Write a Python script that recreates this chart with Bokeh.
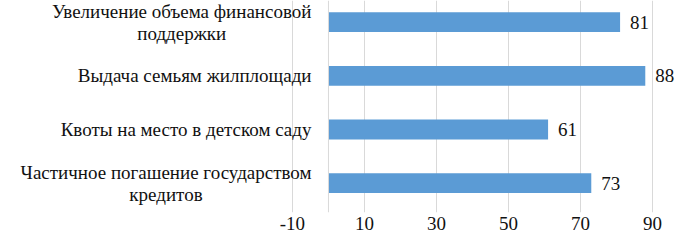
from bokeh.plotting import figure
from bokeh.models import ColumnDataSource, Range1d, FixedTicker, Span
from bokeh.core.properties import value
from bokeh.embed import file_html
from bokeh.resources import INLINE

# Data (bottom to top as drawn)
categories = [
    "Частичное погашение государством\nкредитов",
    "Квоты на место в детском саду",
    "Выдача семьям жилплощади",
    "Увеличение объема финансовой\nподдержки",
]
values = [73, 61, 88, 81]
x_ticks = [-10, 10, 30, 50, 70, 90]
x_tick_labels = {t: str(t) for t in x_ticks}

FONT = "Times New Roman"
FS = "19px"
BLUE = "#5b9bd5"
GRID = "#d9d9d9"
TXT = "#111111"

src = ColumnDataSource(dict(
    y=list(range(len(categories))),
    cat=categories,
    val=values,
    lbl=[str(v) for v in values],
))

p = figure(width=681, height=232, output_backend="svg", toolbar_location=None,
           x_range=Range1d(-91.1, 98.06), y_range=Range1d(-0.546, 3.404),
           y_axis_location=None, min_border_left=0, min_border_right=0,
           min_border_top=0, min_border_bottom=0)
p.outline_line_color = None
p.background_fill_color = "white"

p.xaxis.ticker = FixedTicker(ticks=x_ticks)
p.xaxis.major_label_overrides = x_tick_labels
p.xgrid.ticker = FixedTicker(ticks=x_ticks)
p.xgrid.grid_line_color = GRID
p.ygrid.grid_line_color = None
p.xaxis.axis_line_color = None
p.xaxis.major_tick_line_color = None
p.xaxis.minor_tick_line_color = None
p.xaxis.major_tick_out = 0
p.xaxis.major_tick_in = 0
p.xaxis.major_label_standoff = 4
p.xaxis.major_label_text_font = FONT
p.xaxis.major_label_text_font_size = FS
p.xaxis.major_label_text_color = TXT

p.add_layout(Span(location=0, dimension="height", line_color=GRID, line_width=1))

p.hbar(y="y", left=0, right="val", height=0.37, source=src,
       fill_color=BLUE, line_color=None)

p.text(x=0, y="y", text="cat", source=src, x_offset=-17,
       anchor="center_right", text_align="center", text_baseline="middle",
       text_font=value(FONT), text_font_size=FS, text_color=TXT,
       text_line_height=1.05)

p.text(x="val", y="y", text="lbl", source=src, x_offset=10,
       text_align="left", text_baseline="middle",
       text_font=value(FONT), text_font_size=FS, text_color=TXT)

open("out.html", "w").write(file_html(p, INLINE))
